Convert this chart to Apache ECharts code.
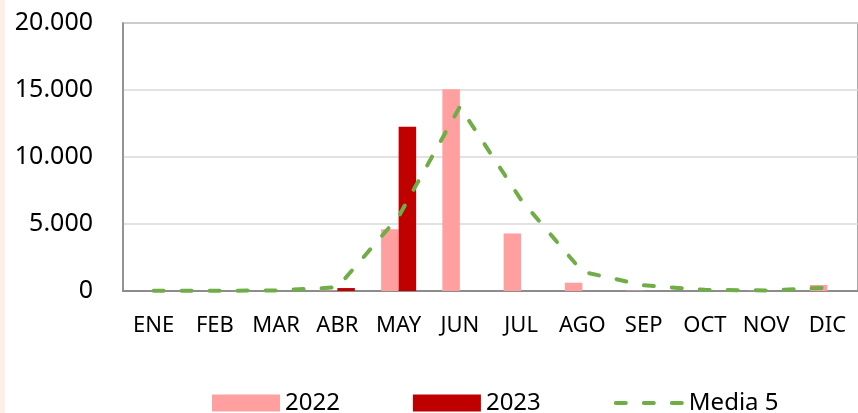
<!DOCTYPE html>
<html>
<head>
<meta charset="utf-8">
<script src="https://cdn.jsdelivr.net/npm/echarts@6/dist/echarts.min.js"></script>
<style>
  html, body { margin: 0; padding: 0; background: #fff; }
  #strip { position: absolute; left: 0; top: 0; width: 5px; height: 413px; background: #fcf0e6; }
  #chart { width: 858px; height: 413px; }
</style>
</head>
<body>
<div id="chart"></div>
<div id="strip"></div>
<script>
  // meses
  const months = ["ENE", "FEB", "MAR", "ABR", "MAY", "JUN", "JUL", "AGO", "SEP", "OCT", "NOV", "DIC"];
  const data2022 = [0, 0, 0, 30, 4600, 15050, 4300, 620, 30, 0, 20, 450];
  const data2023 = [0, 0, 0, 220, 12250, null, null, null, null, null, null, null];
  const media5 = [20, 20, 40, 275, 5550, 13750, 6800, 1440, 425, 85, 40, 250];

  const font = "'Noto Sans', 'Open Sans', sans-serif";
  const dash = { color: "#70ad47", width: 4, type: [10, 18], cap: "round" };

  const chart = echarts.init(document.getElementById("chart"));
  chart.setOption({
    animation: false,
    grid: {
      left: 123, top: 23, right: -5, bottom: 122,
      show: true, borderColor: "#8c8c8c", borderWidth: 1.5
    },
    legend: {
      left: 207,
      top: 386,
      itemWidth: 68,
      itemHeight: 17,
      itemGap: 73,
      textStyle: { fontFamily: font, fontSize: 24, color: "#000" },
      data: [
        { name: "2022", icon: "rect" },
        { name: "2023", icon: "rect" },
        { name: "Media 5", itemStyle: { opacity: 0 }, lineStyle: dash }
      ]
    },
    xAxis: {
      type: "category",
      data: months,
      axisLine: { lineStyle: { color: "#8c8c8c", width: 2 } },
      axisTick: { show: false },
      axisLabel: { interval: 0, fontFamily: font, fontSize: 22, color: "#000", margin: 24 }
    },
    yAxis: {
      type: "value",
      min: 0,
      max: 20000,
      interval: 5000,
      axisLine: { show: true, lineStyle: { color: "#8c8c8c", width: 1.5 } },
      axisTick: { show: false },
      splitLine: { lineStyle: { color: "#d9d9d9", width: 1.5 } },
      axisLabel: {
        fontFamily: font, fontSize: 25, color: "#000", margin: 30,
        formatter: (v) => String(v).replace(/\B(?=(\d{3})+(?!\d))/g, ".")
      }
    },
    series: [
      {
        name: "2022",
        type: "bar",
        data: data2022,
        barWidth: 17.5,
        barGap: "0%",
        itemStyle: { color: "#ff9f9f" }
      },
      {
        name: "2023",
        type: "bar",
        data: data2023,
        barWidth: 17.5,
        itemStyle: { color: "#c00000" }
      },
      {
        name: "Media 5",
        type: "line",
        data: media5,
        symbol: "none",
        itemStyle: { color: "#70ad47" },
        lineStyle: dash
      }
    ]
  });
</script>
</body>
</html>
